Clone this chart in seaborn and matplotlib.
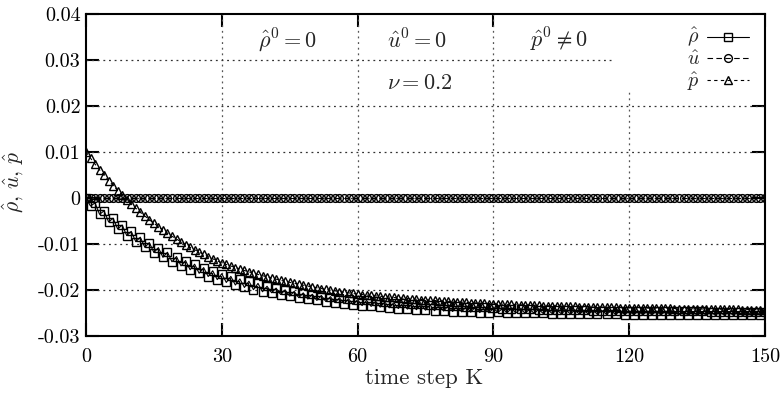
import matplotlib
matplotlib.use("Agg")
import matplotlib.pyplot as plt
from matplotlib.patches import Rectangle
from matplotlib.ticker import FixedLocator, FixedFormatter
import numpy as np
import pandas as pd
import seaborn as sns

# time steps 0..150
steps = list(range(151))

# density perturbation (alternates between two branches step by step)
rho_hat = [
    0.00000, -0.00175, -0.00107, -0.00355, -0.00280, -0.00521, -0.00440, -0.00675, -0.00588, -0.00818,
    -0.00725, -0.00950, -0.00852, -0.01072, -0.00970, -0.01185, -0.01079, -0.01290, -0.01179, -0.01387,
    -0.01273, -0.01477, -0.01359, -0.01560, -0.01439, -0.01637, -0.01513, -0.01708, -0.01582, -0.01774,
    -0.01646, -0.01836, -0.01704, -0.01892, -0.01759, -0.01945, -0.01809, -0.01993, -0.01856, -0.02038,
    -0.01919, -0.02060, -0.01959, -0.02098, -0.01997, -0.02134, -0.02031, -0.02167, -0.02063, -0.02198,
    -0.02092, -0.02226, -0.02119, -0.02252, -0.02145, -0.02276, -0.02168, -0.02299, -0.02190, -0.02320,
    -0.02210, -0.02339, -0.02228, -0.02357, -0.02245, -0.02373, -0.02261, -0.02389, -0.02276, -0.02403,
    -0.02290, -0.02416, -0.02302, -0.02428, -0.02314, -0.02439, -0.02325, -0.02450, -0.02335, -0.02459,
    -0.02344, -0.02468, -0.02353, -0.02477, -0.02361, -0.02484, -0.02368, -0.02491, -0.02375, -0.02498,
    -0.02401, -0.02484, -0.02407, -0.02490, -0.02412, -0.02495, -0.02417, -0.02500, -0.02422, -0.02504,
    -0.02426, -0.02508, -0.02430, -0.02512, -0.02434, -0.02516, -0.02437, -0.02519, -0.02441, -0.02522,
    -0.02443, -0.02525, -0.02446, -0.02527, -0.02449, -0.02530, -0.02451, -0.02532, -0.02453, -0.02534,
    -0.02455, -0.02536, -0.02457, -0.02538, -0.02459, -0.02540, -0.02460, -0.02541, -0.02462, -0.02542,
    -0.02463, -0.02544, -0.02464, -0.02545, -0.02466, -0.02546, -0.02467, -0.02547, -0.02468, -0.02548,
    -0.02469, -0.02549, -0.02469, -0.02550, -0.02470, -0.02551, -0.02471, -0.02551, -0.02472, -0.02552,
    -0.02472,
]

# velocity perturbation stays at zero
u_hat = [0.0] * 151

# pressure perturbation
p_hat = [
    0.01000, 0.00866, 0.00737, 0.00613, 0.00494, 0.00379, 0.00269, 0.00163, 0.00061, -0.00037,
    -0.00131, -0.00222, -0.00309, -0.00392, -0.00473, -0.00550, -0.00624, -0.00696, -0.00765, -0.00831,
    -0.00894, -0.00955, -0.01014, -0.01071, -0.01125, -0.01177, -0.01227, -0.01276, -0.01322, -0.01367,
    -0.01410, -0.01445, -0.01480, -0.01513, -0.01545, -0.01576, -0.01605, -0.01634, -0.01662, -0.01689,
    -0.01715, -0.01741, -0.01765, -0.01789, -0.01812, -0.01834, -0.01855, -0.01876, -0.01896, -0.01915,
    -0.01934, -0.01952, -0.01969, -0.01986, -0.02003, -0.02018, -0.02034, -0.02048, -0.02063, -0.02076,
    -0.02090, -0.02100, -0.02110, -0.02119, -0.02128, -0.02137, -0.02146, -0.02154, -0.02163, -0.02171,
    -0.02179, -0.02186, -0.02194, -0.02201, -0.02208, -0.02215, -0.02222, -0.02228, -0.02235, -0.02241,
    -0.02247, -0.02253, -0.02259, -0.02264, -0.02270, -0.02275, -0.02280, -0.02286, -0.02291, -0.02295,
    -0.02300, -0.02304, -0.02308, -0.02311, -0.02315, -0.02318, -0.02322, -0.02325, -0.02328, -0.02331,
    -0.02335, -0.02338, -0.02341, -0.02344, -0.02346, -0.02349, -0.02352, -0.02355, -0.02357, -0.02360,
    -0.02362, -0.02365, -0.02367, -0.02370, -0.02372, -0.02374, -0.02376, -0.02379, -0.02381, -0.02383,
    -0.02385, -0.02387, -0.02389, -0.02391, -0.02393, -0.02394, -0.02396, -0.02398, -0.02400, -0.02401,
    -0.02403, -0.02405, -0.02406, -0.02408, -0.02409, -0.02411, -0.02412, -0.02414, -0.02415, -0.02416,
    -0.02418, -0.02419, -0.02420, -0.02422, -0.02423, -0.02424, -0.02425, -0.02426, -0.02428, -0.02429,
    -0.02430,
]

x_ticks = [0, 30, 60, 90, 120, 150]
x_tick_labels = ["0", "30", "60", "90", "120", "150"]
y_ticks = [-0.03, -0.02, -0.01, 0.0, 0.01, 0.02, 0.03, 0.04]
y_tick_labels = ["-0.03", "-0.02", "-0.01", "0", "0.01", "0.02", "0.03", "0.04"]
grid_x = [30, 60, 90, 120]
grid_y = [-0.02, -0.01, 0.0, 0.01, 0.02, 0.03]

sns.set_theme(style="ticks")
plt.rcParams["font.family"] = ["cmr10", "DejaVu Serif"]
plt.rcParams["mathtext.fontset"] = "cm"
plt.rcParams["axes.unicode_minus"] = False
FS = 14.5
FS_NOTE = 16

df = pd.DataFrame({"K": steps, "rho": rho_hat, "u": u_hat, "p": p_hat})

fig = plt.figure(figsize=(7.83, 4.0), dpi=100)
ax = fig.add_axes([0.1098, 0.16, 0.8672, 0.805])

# dotted grid at the major ticks
for gx in grid_x:
    ax.axvline(gx, color="#555555", lw=0.9, ls=(0, (1.5, 3)), zorder=1)
for gy in grid_y:
    ax.axhline(gy, color="#333333", lw=0.9, ls=(0, (1.5, 3)), zorder=1)

common = dict(color="black", lw=0.8, markerfacecolor="none", markeredgecolor="black",
              markeredgewidth=1.0, estimator=None, sort=False, ax=ax, zorder=3)
sns.lineplot(data=df, x="K", y="rho", marker="s", markersize=5.2, ls="-",
             label=r"$\hat{\rho}$", **common)
sns.lineplot(data=df, x="K", y="u", marker="o", markersize=5.6, ls=(0, (5, 3)),
             label=r"$\hat{u}$", **common)
sns.lineplot(data=df, x="K", y="p", marker="^", markersize=5.6, ls=(0, (3, 3)),
             label=r"$\hat{p}$", **common)

ax.set_xlim(0, 150)
ax.set_ylim(-0.03, 0.04)
ax.xaxis.set_major_locator(FixedLocator(x_ticks))
ax.xaxis.set_major_formatter(FixedFormatter(x_tick_labels))
ax.yaxis.set_major_locator(FixedLocator(y_ticks))
ax.yaxis.set_major_formatter(FixedFormatter(y_tick_labels))
ax.tick_params(direction="in", length=9.5, width=1.5, top=True, right=True,
               labelsize=FS, colors="black")
ax.tick_params(axis="x", pad=9)
ax.tick_params(axis="y", pad=4)
for s in ax.spines.values():
    s.set_linewidth(1.5)
    s.set_color("black")
    s.set_zorder(4)

# blank panel behind the legend
ax.add_patch(Rectangle((0.775, 0.764), 0.225, 0.236, transform=ax.transAxes,
                       facecolor="white", edgecolor="none", zorder=1.8))

leg = ax.legend(loc="upper right", bbox_to_anchor=(1.0, 1.012), frameon=False,
                markerfirst=False, fontsize=FS, handlelength=2.1, handletextpad=0.35,
                labelspacing=0.05, borderpad=0.3, numpoints=1)

# parameter annotations
ax.text(37.9, 0.0343, r"$\hat{\rho}^0=0$", fontsize=FS_NOTE, ha="left", va="center")
ax.text(66.6, 0.0343, r"$\hat{u}^0=0$", fontsize=FS_NOTE, ha="left", va="center")
ax.text(98.0, 0.0343, r"$\hat{p}^0\neq0$", fontsize=FS_NOTE, ha="left", va="center")
ax.text(66.6, 0.0250, r"$\nu=0.2$", fontsize=FS_NOTE, ha="left", va="center")

ax.set_xlabel("time step K", fontsize=16.5)
ax.set_ylabel(r"$\hat{\rho},\,\hat{u},\,\hat{p}$", fontsize=15.5)
ax.xaxis.set_label_coords(0.4985, -0.1)
ax.yaxis.set_label_coords(-0.09, 0.478)

fig.savefig("out.png", dpi=100, facecolor="white")
